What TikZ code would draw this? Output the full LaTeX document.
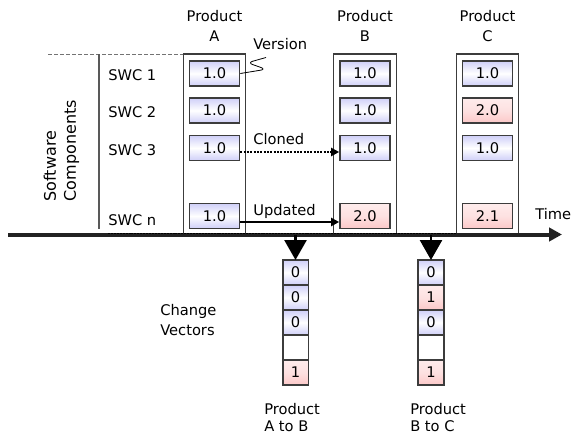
\documentclass[tikz,border=0pt]{standalone}
\usepackage{fontspec}
\setmainfont{DejaVu Sans}
\usetikzlibrary{positioning,arrows.meta}
\definecolor{verblue}{HTML}{CFCFF8}
\definecolor{verpink}{HTML}{FCC8C8}
\definecolor{framegray}{HTML}{3C3C3C}
\definecolor{axisgray}{HTML}{222222}

\begin{document}
\begin{tikzpicture}[x=0.75pt, y=-0.75pt,
    every node/.style={font=\fontsize{11}{15}\selectfont, inner sep=0pt},
    prodcol/.style={rectangle, draw=framegray, line width=1pt, fill=white, minimum width=46.9pt, minimum height=135pt},
    oldver/.style={rectangle, draw=framegray, line width=1.2pt, minimum width=37.5pt, minimum height=18.75pt, top color=verblue, bottom color=verblue, middle color=white},
    newver/.style={rectangle, draw=framegray, line width=1.2pt, minimum width=37.5pt, minimum height=18.75pt, top color=verpink!35, bottom color=verpink, middle color=verpink!55},
    vcell/.style={rectangle, draw=framegray, line width=1.2pt, minimum width=19.2pt, minimum height=18.75pt, outer sep=0pt, fill=white},
    vzero/.style={vcell, top color=verblue, bottom color=verblue, middle color=white},
    vone/.style={vcell, top color=verpink!35, bottom color=verpink, middle color=verpink!55},
    droparrow/.style={-{Triangle[length=15pt,width=16.5pt]}, line width=2pt, black}
  ]
    \useasboundingbox (0,0) rectangle (571,436);

    % component axis
    \coordinate (swctop) at (99,54);
    \coordinate (swcbot) at (99,229);
    \draw[black!55, line width=0.6pt, dash pattern=on 3pt off 1.5pt] (48,54) -- (183,54);
    \draw[black!65, line width=0.8pt] (swctop) -- (swcbot);
    \node[rotate=90, align=left, anchor=west, font=\fontsize{12}{15}\selectfont] (swclab) at (61.5,201.7) {Software\\Components};

    \node[anchor=base west] (swc1) at (108,80.7) {SWC 1};
    \node[anchor=base west] (swc2) at (108,117.5) {SWC 2};
    \node[anchor=base west] (swc3) at (108,155) {SWC 3};
    \node[anchor=base west] (swcn) at (108,225.5) {SWC n};

    % product columns
    \node[prodcol] (colA) at (214.5,144) {};
    \node[prodcol] (colB) at (365,144) {};
    \node[prodcol] (colC) at (487.5,144) {};
    \node[align=center] (prodA) at (214.5,25.7) {Product\\A};
    \node[align=center] (prodB) at (365,25.7) {Product\\B};
    \node[align=center] (prodC) at (487.5,25.7) {Product\\C};

    % Product A
    \node[oldver] (a1) at (214.5,73.5) {1.0};
    \node[oldver] (a2) at (214.5,110.5) {1.0};
    \node[oldver] (a3) at (214.5,148) {1.0};
    \node[oldver] (an) at (214.5,216) {1.0};

    % Product B
    \node[oldver] (b1) at (365,73.5) {1.0};
    \node[oldver] (b2) at (365,110.5) {1.0};
    \node[oldver] (b3) at (365,148) {1.0};
    \node[newver] (bn) at (365,216) {2.0};

    % Product C
    \node[oldver] (c1) at (487.5,73.5) {1.0};
    \node[newver] (c2) at (487.5,110.5) {2.0};
    \node[oldver] (c3) at (487.5,148) {1.0};
    \node[newver] (cn) at (487.5,216) {2.1};

    % version callout
    \draw[line width=0.6pt, rounded corners=4pt] (a1.east) -- (266,69.3) -- (247.5,62.7) -- (266,57.5);
    \node[anchor=base west] (verlab) at (253,49.5) {Version};

    % cloned / updated
    \draw[-{Triangle[length=6pt,width=6pt]}, line width=1.6pt, dash pattern=on 1.6pt off 0.9pt] ([yshift=-3pt]a3.east) -- ([yshift=-3pt]b3.west);
    \node[anchor=base west] (clonelab) at (253,144) {Cloned};
    \draw[-{Triangle[length=6pt,width=6pt]}, line width=2.2pt] ([yshift=-4.5pt]an.east) -- ([yshift=-4.5pt]bn.west);
    \node[anchor=base west] (updlab) at (253,215) {Updated};

    % time axis
    \coordinate (tstart) at (8,234.5);
    \coordinate (tend) at (562,234.5);
    \draw[-{Triangle[length=9.75pt,width=10pt]}, line width=3pt, axisgray] (tstart) -- (tend);
    \draw[black, line width=0.8pt, dash pattern=on 1.5pt off 0.7pt] (108,233.3) -- (457,233.3);
    \node[anchor=base west] (timelab) at (535,219) {Time};

    % change vectors
    \node[vzero] (ab1) at (295.5,272.5) {0};
    \node[vzero, below=0pt of ab1] (ab2) {0};
    \node[vzero, below=0pt of ab2] (ab3) {0};
    \node[vcell, below=0pt of ab3] (ab4) {};
    \node[vone, below=0pt of ab4] (ab5) {1};

    \node[vzero] (bc1) at (431,272.5) {0};
    \node[vone, below=0pt of bc1] (bc2) {1};
    \node[vzero, below=0pt of bc2] (bc3) {0};
    \node[vcell, below=0pt of bc3] (bc4) {};
    \node[vone, below=0pt of bc4] (bc5) {1};

    \coordinate (dropAB) at (295.5,234.5);
    \coordinate (dropBC) at (431,234.5);
    \draw[droparrow] (dropAB) -- (ab1.north);
    \draw[droparrow] (dropBC) -- (bc1.north);

    \node[anchor=west, align=left] (cvlab) at (160,319.7) {Change\\Vectors};
    \node[anchor=west, align=left, font=\fontsize{11}{13}\selectfont] (ablab) at (264,417.3) {Product\\A to B};
    \node[anchor=west, align=left, font=\fontsize{11}{13}\selectfont] (bclab) at (410,417.3) {Product\\B to C};
  \end{tikzpicture}
\end{document}
